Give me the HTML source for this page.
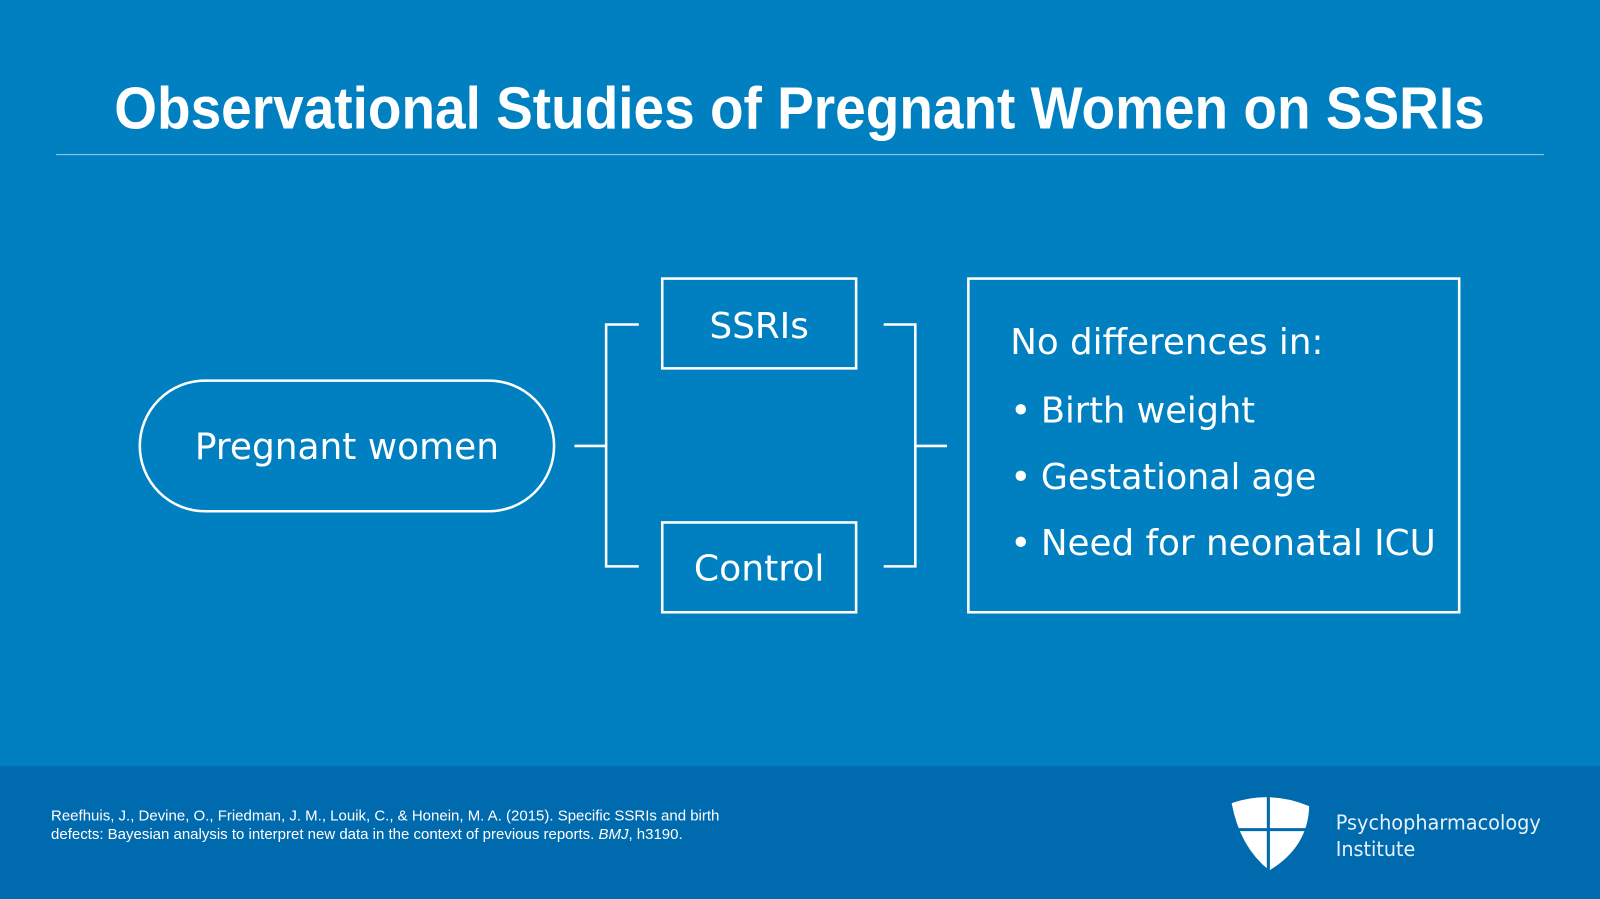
<!DOCTYPE html>
<html><head><meta charset="utf-8"><style>html,body{margin:0;padding:0;background:#0080c1;overflow:hidden}svg{display:block}</style></head>
<body>
<svg width="1600" height="899" viewBox="0 0 1568 881" preserveAspectRatio="none" xmlns="http://www.w3.org/2000/svg" font-family="'Liberation Sans', 'DejaVu Sans', sans-serif">
<rect width="1568" height="881" fill="#0080c1"/>
<rect y="751" width="1568" height="130" fill="#006aae"/>
<text x="112" y="126" font-size="58" font-weight="bold" fill="#fff" textLength="1343" lengthAdjust="spacingAndGlyphs">Observational Studies of Pregnant Women on SSRIs</text>
<line x1="55" y1="151.5" x2="1513" y2="151.5" stroke="#9fd0ee" stroke-width="1"/>
<g fill="none" stroke="#fff" stroke-width="2.5">
<rect x="137" y="373" width="406" height="128" rx="64"/>
<rect x="649" y="273" width="190" height="88"/>
<rect x="649" y="512" width="190" height="88"/>
<rect x="949" y="273" width="481" height="327"/>
<path d="M563 437H594M626 318H594V555H626M866 318H897V555H866M897 437H928"/>
</g>
<g fill="#fff" font-family="'DejaVu Sans', 'Liberation Sans', sans-serif">
<text x="340" y="450" font-size="36" text-anchor="middle" textLength="298" lengthAdjust="spacingAndGlyphs">Pregnant women</text>
<text x="744" y="331" font-size="35" text-anchor="middle">SSRIs</text>
<text x="744" y="569" font-size="35" text-anchor="middle" textLength="128" lengthAdjust="spacingAndGlyphs">Control</text>
<text x="990" y="347" font-size="35" textLength="307" lengthAdjust="spacingAndGlyphs">No differences in:</text>
<text x="990" y="414" font-size="35">•</text>
<text x="1020" y="414" font-size="35" textLength="210" lengthAdjust="spacingAndGlyphs">Birth weight</text>
<text x="990" y="479" font-size="35">•</text>
<text x="1020" y="479" font-size="35" textLength="270" lengthAdjust="spacingAndGlyphs">Gestational age</text>
<text x="990" y="544" font-size="35">•</text>
<text x="1020" y="544" font-size="35" textLength="387" lengthAdjust="spacingAndGlyphs">Need for neonatal ICU</text>
</g>
<g fill="#fff" font-size="14.5">
<text x="50" y="804" textLength="655" lengthAdjust="spacingAndGlyphs">Reefhuis, J., Devine, O., Friedman, J. M., Louik, C., &amp; Honein, M. A. (2015). Specific SSRIs and birth</text>
<text x="50" y="822" textLength="619" lengthAdjust="spacingAndGlyphs">defects: Bayesian analysis to interpret new data in the context of previous reports. <tspan font-style="italic">BMJ</tspan>, h3190.</text>
</g>
<path d="M1207 787 Q1245 774 1283 790 Q1282 830 1244 853 Q1215 830 1207 787Z" fill="#fff"/>
<path d="M1243 778V855M1207 813H1283" stroke="#006aae" stroke-width="3"/>
<g fill="#e6f2fa" font-family="'DejaVu Sans', 'Liberation Sans', sans-serif" font-size="20">
<text x="1309" y="813" textLength="201" lengthAdjust="spacingAndGlyphs">Psychopharmacology</text>
<text x="1309" y="839" textLength="78" lengthAdjust="spacingAndGlyphs">Institute</text>
</g>
</svg>
</body></html>
